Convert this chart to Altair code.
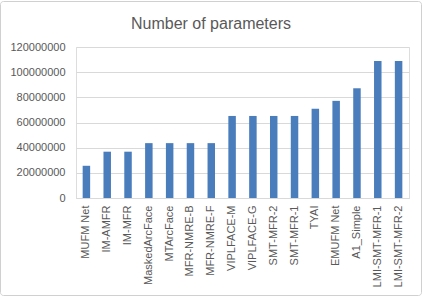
import altair as alt
import pandas as pd

models = ["MUFM Net", "IM-AMFR", "IM-MFR", "MaskedArcFace", "MTArcFace",
          "MFR-NMRE-B", "MFR-NMRE-F", "VIPLFACE-M", "VIPLFACE-G", "SMT-MFR-2",
          "SMT-MFR-1", "TYAI", "EMUFM Net", "A1_Simple", "LMI-SMT-MFR-1", "LMI-SMT-MFR-2"]
params = [25600000, 36800000, 36800000, 43600000, 43600000,
          43600000, 43600000, 65200000, 65200000, 65200000,
          65200000, 70900000, 77200000, 87200000, 108800000, 108800000]
y_ticks = [0, 20000000, 40000000, 60000000, 80000000, 100000000, 120000000]
title_text = ["Number of parameters"]

df = pd.DataFrame({"model": models, "params": params})

FONT = "Liberation Sans"
GREY = "#595959"

bars = alt.Chart(df).mark_bar(color="#4a7dbb").encode(
    x=alt.X("model:N", sort=models, title=None,
            scale=alt.Scale(paddingInner=0.64, paddingOuter=0.32),
            axis=alt.Axis(labelAngle=-90, labelFont=FONT, labelFontSize=11,
                          labelColor=GREY, ticks=False, domain=True,
                          domainColor="#d9d9d9", labelPadding=7)),
    y=alt.Y("params:Q", title=None,
            scale=alt.Scale(domain=[0, 120000000]),
            axis=alt.Axis(values=y_ticks, format="d", labelFont=FONT,
                          labelFontSize=11, labelColor=GREY, ticks=False,
                          domain=False, gridColor="#d9d9d9", labelPadding=11)),
)

title = alt.Chart(alt.Data(values=[{"t": t} for t in title_text])).mark_text(
    font=FONT, fontSize=16, color=GREY, align="center", baseline="middle"
).encode(
    text="t:N", x=alt.value(135), y=alt.value(-23),
)

border = alt.Chart(alt.Data(values=[{}])).mark_rect(
    fill=None, stroke="#d0d0d0", strokeWidth=1, cornerRadius=3
).encode(
    x=alt.value(-75.5), x2=alt.value(345.5),
    y=alt.value(-45.5), y2=alt.value(248.5),
)

chart = alt.layer(bars, title, border).properties(
    width=333, height=151,
    autosize=alt.AutoSizeParams(type="none"),
    padding={"left": 76, "top": 47, "right": 14, "bottom": 98},
).configure_view(stroke=None).configure(background="white")

chart.save("out.html", embed_options={"renderer": "svg", "actions": False})
